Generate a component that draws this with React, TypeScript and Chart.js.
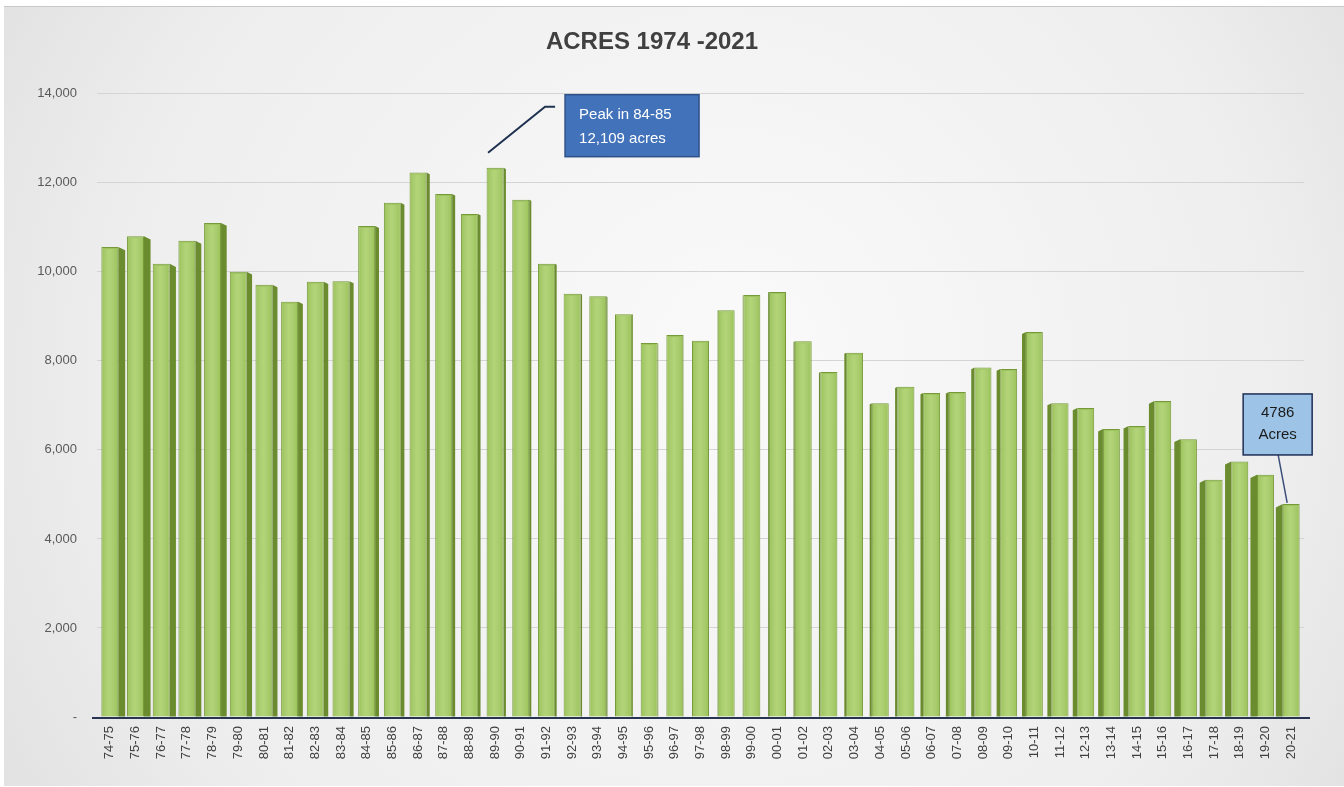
import React, { useEffect, useRef } from "react";
import { Chart, registerables } from "chart.js";

Chart.register(...registerables);

const categories = [
  "74-75", "75-76", "76-77", "77-78", "78-79", "79-80", "80-81", "81-82", "82-83", "83-84",
  "84-85", "85-86", "86-87", "87-88", "88-89", "89-90", "90-91", "91-92", "92-93", "93-94",
  "94-95", "95-96", "96-97", "97-98", "98-99", "99-00", "00-01", "01-02", "02-03", "03-04",
  "04-05", "05-06", "06-07", "07-08", "08-09", "09-10", "10-11", "11-12", "12-13", "13-14",
  "14-15", "15-16", "16-17", "17-18", "18-19", "19-20", "20-21",
];

const acres = [
  10560, 10800, 10180, 10700, 11100, 10000, 9710, 9330, 9780, 9790,
  11030, 11550, 12230, 11750, 11300, 12340, 11620, 10180, 9510, 9450,
  9050, 8400, 8580, 8450, 9140, 9480, 9550, 8440, 7750, 8180,
  7050, 7420, 7280, 7300, 7850, 7820, 8650, 7050, 6940, 6470,
  6540, 7100, 6240, 5330, 5740, 5440, 4786,
];

const yTicks = [0, 2000, 4000, 6000, 8000, 10000, 12000, 14000];

const titleText = "ACRES 1974 -2021";
const peakNote = ["Peak in 84-85", "12,109 acres"];
const peakIndex = 15;
const lastNote = ["4786", "Acres"];
const lastIndex = 46;

const FONT = "'Liberation Sans', Arial, sans-serif";

const backgroundPlugin = {
  id: "bgPlugin",
  beforeDraw(chart: any) {
    const { ctx, width, height } = chart;
    ctx.save();
    ctx.fillStyle = "#ffffff";
    ctx.fillRect(0, 0, width, height);
    const g = ctx.createRadialGradient(width * 0.55, height * 0.45, 50, width * 0.5, height * 0.5, width * 0.7);
    g.addColorStop(0, "#f9f9f9");
    g.addColorStop(0.6, "#eeeeee");
    g.addColorStop(1, "#d9d9d9");
    ctx.fillStyle = g;
    ctx.fillRect(4, 6, width - 4, height - 7);
    ctx.strokeStyle = "#c8c8c8";
    ctx.lineWidth = 1;
    ctx.beginPath();
    ctx.moveTo(4, 6.5);
    ctx.lineTo(width, 6.5);
    ctx.stroke();
    ctx.restore();
  },
};

const depthPlugin = {
  id: "depthPlugin",
  beforeDatasetsDraw(chart: any) {
    const { ctx, chartArea } = chart;
    const meta = chart.getDatasetMeta(0);
    const cxMid = (chartArea.left + chartArea.right) / 2;
    const half = (chartArea.right - chartArea.left) / 2;
    ctx.save();
    meta.data.forEach((bar: any) => {
      const { x, y, base, width } = bar.getProps(["x", "y", "base", "width"], true);
      const rel = (cxMid - x) / half;
      const d = 7 * rel;
      const left = x - width / 2;
      const right = x + width / 2;
      ctx.fillStyle = "#6a8c2e";
      ctx.beginPath();
      if (d >= 0) {
        ctx.moveTo(right, y);
        ctx.lineTo(right + d, y + Math.abs(d) * 0.5);
        ctx.lineTo(right + d, base);
        ctx.lineTo(right, base);
      } else {
        ctx.moveTo(left, y);
        ctx.lineTo(left + d, y + Math.abs(d) * 0.5);
        ctx.lineTo(left + d, base);
        ctx.lineTo(left, base);
      }
      ctx.closePath();
      ctx.fill();
    });
    ctx.restore();
  },
  afterDatasetsDraw(chart: any) {
    const { ctx, chartArea } = chart;
    const meta = chart.getDatasetMeta(0);
    ctx.save();
    meta.data.forEach((bar: any) => {
      const { x, y, base, width } = bar.getProps(["x", "y", "base", "width"], true);
      const left = x - width / 2 + 1;
      const w = width - 2;
      const g = ctx.createLinearGradient(left, 0, left + w, 0);
      g.addColorStop(0, "rgba(255,255,255,0)");
      g.addColorStop(0.45, "rgba(220,240,170,0.35)");
      g.addColorStop(1, "rgba(255,255,255,0)");
      ctx.fillStyle = g;
      ctx.fillRect(left, y + 2, w, base - y - 2);
    });
    // x axis line
    ctx.strokeStyle = "#273552";
    ctx.lineWidth = 2;
    ctx.beginPath();
    ctx.moveTo(chartArea.left - 5, chartArea.bottom + 1);
    ctx.lineTo(chartArea.right + 6, chartArea.bottom + 1);
    ctx.stroke();
    ctx.restore();
  },
};

const annotationPlugin = {
  id: "notes",
  afterDraw(chart: any) {
    const { ctx, scales } = chart;
    const xs = scales.x;
    const ys = scales.y;
    ctx.save();

    // Peak note
    const px = xs.getPixelForValue(peakIndex);
    const py = ys.getPixelForValue(acres[peakIndex]);
    ctx.strokeStyle = "#1f3250";
    ctx.lineWidth = 2;
    ctx.beginPath();
    ctx.moveTo(px - 7, py - 15);
    ctx.lineTo(px + 50, py - 61);
    ctx.lineTo(px + 60, py - 61);
    ctx.stroke();
    const bx = px + 70;
    const by = py - 73;
    const bw = 134;
    const bh = 62;
    ctx.fillStyle = "#4273ba";
    ctx.fillRect(bx, by, bw, bh);
    ctx.strokeStyle = "#2f5088";
    ctx.lineWidth = 1.5;
    ctx.strokeRect(bx, by, bw, bh);
    ctx.fillStyle = "#ffffff";
    ctx.font = `15px ${FONT}`;
    ctx.textAlign = "left";
    ctx.textBaseline = "middle";
    ctx.fillText(peakNote[0], bx + 14, by + 20);
    ctx.fillText(peakNote[1], bx + 14, by + 44);

    // Last note
    const lx = xs.getPixelForValue(lastIndex);
    const ly = ys.getPixelForValue(acres[lastIndex]);
    ctx.strokeStyle = "#3a4e7a";
    ctx.lineWidth = 1.5;
    ctx.beginPath();
    ctx.moveTo(lx - 4, ly - 1);
    ctx.lineTo(lx - 13, ly - 49);
    ctx.stroke();
    const b2x = lx - 48;
    const b2y = ly - 110;
    const b2w = 69;
    const b2h = 61;
    ctx.fillStyle = "#9dc3e6";
    ctx.fillRect(b2x, b2y, b2w, b2h);
    ctx.strokeStyle = "#1f2f55";
    ctx.lineWidth = 1.5;
    ctx.strokeRect(b2x, b2y, b2w, b2h);
    ctx.fillStyle = "#1a1a1a";
    ctx.font = `15px ${FONT}`;
    ctx.textAlign = "center";
    ctx.fillText(lastNote[0], b2x + b2w / 2, b2y + 19);
    ctx.fillText(lastNote[1], b2x + b2w / 2, b2y + 41);

    ctx.restore();
  },
};

export default function App() {
  const canvasRef = useRef<HTMLCanvasElement | null>(null);

  useEffect(() => {
    if (!canvasRef.current) return;
    const chart = new Chart(canvasRef.current, {
      type: "bar",
      data: {
        labels: categories,
        datasets: [
          {
            label: "Acres",
            data: acres,
            backgroundColor: "#9cc45a",
            borderColor: "#76993a",
            borderWidth: 1,
            barPercentage: 0.66,
            categoryPercentage: 1,
          },
        ],
      },
      options: {
        responsive: true,
        maintainAspectRatio: false,
        animation: false,
        layout: { padding: { left: 0, right: 40, top: 0, bottom: 0 } },
        plugins: {
          legend: { display: false },
          tooltip: { enabled: false },
          title: {
            display: true,
            text: titleText,
            color: "#404040",
            font: { family: FONT, size: 24, weight: "bold" },
            padding: { top: 28, bottom: 37 },
          },
        },
        scales: {
          x: {
            grid: { display: false, drawTicks: false },
            border: { display: false },
            ticks: {
              color: "#404040",
              font: { family: FONT, size: 13 },
              minRotation: 90,
              maxRotation: 90,
              autoSkip: false,
              padding: 9,
            },
            afterFit: (s: any) => {
              s.height = 70;
            },
          },
          y: {
            min: 0,
            max: 14000,
            afterBuildTicks: (s: any) => {
              s.ticks = yTicks.map((v) => ({ value: v }));
            },
            grid: { color: "#d4d4d4", lineWidth: 1, drawTicks: false },
            border: { display: false },
            ticks: {
              color: "#595959",
              font: { family: FONT, size: 13 },
              padding: 20,
              callback: (v: any) => (Number(v) === 0 ? "-" : Number(v).toLocaleString("en-US")),
            },
            afterFit: (s: any) => {
              s.width = 97;
            },
          },
        },
      },
      plugins: [backgroundPlugin, depthPlugin, annotationPlugin],
    });
    return () => chart.destroy();
  }, []);

  return (
    <div style={{ position: "absolute", left: 0, top: 0, width: 1344, height: 787 }}>
      <canvas ref={canvasRef} />
    </div>
  );
}
